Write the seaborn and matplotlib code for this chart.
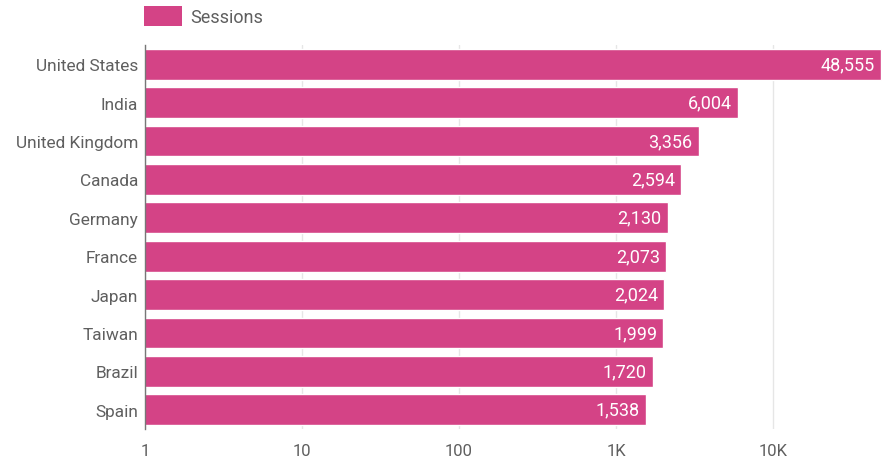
import matplotlib
matplotlib.use("Agg")
import matplotlib.pyplot as plt
import matplotlib.ticker as mticker
from matplotlib.patches import Patch
import seaborn as sns
import pandas as pd

# data
countries = ['United States', 'India', 'United Kingdom', 'Canada', 'Germany',
             'France', 'Japan', 'Taiwan', 'Brazil', 'Spain']
sessions = [48555, 6004, 3356, 2594, 2130, 2073, 2024, 1999, 1720, 1538]
tick_vals = [1, 10, 100, 1000, 10000]
tick_labels = ['1', '10', '100', '1K', '10K']

df = pd.DataFrame({'Country': countries, 'Sessions': sessions})

bar_color = '#d44386'
text_gray = '#5f5f5f'

sns.set_style('white')
plt.rcParams['font.family'] = ['Roboto', 'DejaVu Sans']

fig = plt.figure(figsize=(8.88, 4.6), dpi=100)
ax = fig.add_axes([145 / 888, 1 - 430 / 460, (883 - 145) / 888, (430 - 46) / 460])

sns.barplot(data=df, y='Country', x='Sessions', orient='h', color=bar_color,
            saturation=1, width=0.8, ax=ax, zorder=2)

ax.set_xscale('log')
ax.set_xlim(1, 50000)
ax.set_ylim(9.5, -0.5)
ax.xaxis.set_major_locator(mticker.FixedLocator(tick_vals))
ax.xaxis.set_major_formatter(mticker.FixedFormatter(tick_labels))
ax.xaxis.set_minor_locator(mticker.NullLocator())
ax.grid(axis='x', color='#e6e6e6', linewidth=1, zorder=0)
ax.set_axisbelow(True)

for s in ['top', 'right', 'bottom']:
    ax.spines[s].set_visible(False)
ax.spines['left'].set_color('#777777')
ax.spines['left'].set_linewidth(1)

ax.tick_params(axis='x', length=0, pad=10, labelsize=12, labelcolor=text_gray)
ax.tick_params(axis='y', length=0, pad=5, labelsize=12.4, labelcolor=text_gray)
ax.set_xlabel('')
ax.set_ylabel('')

labels = ax.bar_label(ax.containers[0], labels=[f'{v:,}' for v in sessions],
                      padding=-4.5, color='white', fontsize=13)
for t in labels:
    t.set_ha('right')

handle = Patch(facecolor=bar_color, edgecolor='none')
fig.legend([handle], ['Sessions'], loc='upper left',
           bbox_to_anchor=(128 / 888, 1.02), frameon=False,
           fontsize=13, labelcolor=text_gray, handlelength=2.1,
           handleheight=1.3, handletextpad=0.45)

fig.savefig('out.png', dpi=100)
